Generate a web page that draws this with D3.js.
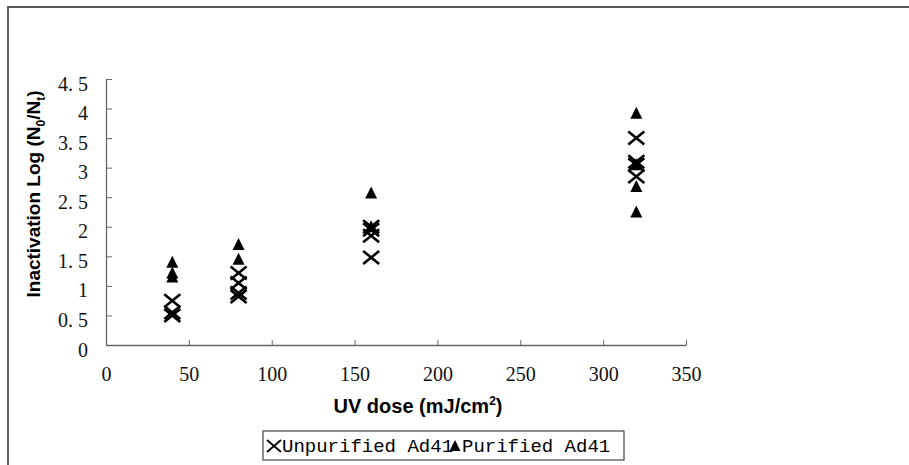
<!DOCTYPE html>
<html>
<head>
<meta charset="utf-8">
<script src="https://cdn.jsdelivr.net/npm/d3@7"></script>
<style>
  body { margin: 0; background: #fff; }
</style>
</head>
<body>
<div id="chart"></div>
<script>
const width = 909;
const height = 465;
const margin = { top: 79, right: 223, bottom: 120, left: 106 };

// UV dose levels and inactivation values
const unpurifiedDose = [40, 40, 40, 80, 80, 80, 80, 160, 160, 160, 160, 320, 320, 320, 320];
const unpurifiedLog = [0.75, 0.55, 0.5, 1.22, 1.05, 0.88, 0.82, 2.0, 1.95, 1.85, 1.48, 3.5, 3.1, 3.05, 2.85];
const purifiedDose = [40, 40, 40, 80, 80, 160, 160, 320, 320, 320, 320];
const purifiedLog = [1.4, 1.22, 1.15, 1.7, 1.45, 2.57, 2.0, 3.92, 3.05, 2.68, 2.25];

const xTicks = [0, 50, 100, 150, 200, 250, 300, 350];
const yTicks = [0, 0.5, 1, 1.5, 2, 2.5, 3, 3.5, 4, 4.5];

const unpurified = unpurifiedDose.map((d, i) => ({ dose: d, log: unpurifiedLog[i] }));
const purified = purifiedDose.map((d, i) => ({ dose: d, log: purifiedLog[i] }));

const svg = d3.select("#chart")
  .append("svg")
  .attr("width", width)
  .attr("height", height);

// outer frame (top and left edges)
svg.append("path")
  .attr("d", `M8,${height} V7 H${width}`)
  .attr("fill", "none")
  .attr("stroke", "#555")
  .attr("stroke-width", 1.8);

const x = d3.scaleLinear()
  .domain([0, 350])
  .range([margin.left, width - margin.right]);

const y = d3.scaleLinear()
  .domain([0, 4.5])
  .range([height - margin.bottom, margin.top]);

// X axis
const xAxis = svg.append("g")
  .attr("transform", `translate(0, ${height - margin.bottom})`)
  .call(d3.axisBottom(x).tickValues(xTicks).tickSize(-5).tickSizeOuter(0).tickPadding(22).tickFormat(d3.format("d")));

// Y axis
const yAxis = svg.append("g")
  .attr("transform", `translate(${margin.left},0)`)
  .call(d3.axisLeft(y).tickValues(yTicks).tickSize(-6).tickSizeOuter(0).tickPadding(18)
    .tickFormat(d => d === Math.floor(d) ? d : d.toFixed(1).replace(".", ". ")));

svg.selectAll(".domain").attr("stroke", "#666").attr("stroke-width", 1.3);
svg.selectAll(".tick line").attr("stroke", "#666");
svg.selectAll(".tick text")
  .attr("font-family", "Liberation Serif, serif")
  .attr("font-size", 20)
  .attr("fill", "#111");
yAxis.selectAll(".tick text").attr("dy", "0.55em");

// X axis label
const xLabel = svg.append("text")
  .attr("x", 418)
  .attr("y", 413)
  .attr("text-anchor", "middle")
  .attr("font-family", "Liberation Sans, Arial, sans-serif")
  .attr("font-weight", "bold")
  .attr("font-size", 20)
  .text("UV dose (mJ/cm");
xLabel.append("tspan").attr("dy", -8).attr("font-size", 12).text("2");
xLabel.append("tspan").attr("dy", 8).text(")");

// Y axis label
const yLabel = svg.append("text")
  .attr("transform", "rotate(-90)")
  .attr("x", -194)
  .attr("y", 40)
  .attr("text-anchor", "middle")
  .attr("font-family", "Liberation Sans, Arial, sans-serif")
  .attr("font-weight", "bold")
  .attr("font-size", 19)
  .text("Inactivation Log (N");
yLabel.append("tspan").attr("dy", 5).attr("font-size", 12).text("0");
yLabel.append("tspan").attr("dy", -5).text("/N");
yLabel.append("tspan").attr("dy", 5).attr("font-size", 12).text("t");
yLabel.append("tspan").attr("dy", -5).text(")");

const cross = "M-8,-6.5L8,6.5M-8,6.5L8,-6.5";
const tri = "M0,-6.5L6,5.5L-6,5.5Z";

// Unpurified: crosses
svg.selectAll(".cross")
  .data(unpurified)
  .enter()
  .append("path")
  .attr("class", "cross")
  .attr("transform", d => `translate(${x(d.dose)},${y(d.log)})`)
  .attr("d", cross)
  .attr("stroke", "#000")
  .attr("stroke-width", 2.6)
  .attr("fill", "none");

// Purified: triangles
svg.selectAll(".tri")
  .data(purified)
  .enter()
  .append("path")
  .attr("class", "tri")
  .attr("transform", d => `translate(${x(d.dose)},${y(d.log)})`)
  .attr("d", tri)
  .attr("fill", "#000");

// Legend
const legend = svg.append("g").attr("transform", "translate(263,431)");
legend.append("rect")
  .attr("width", 361)
  .attr("height", 29)
  .attr("fill", "#fff")
  .attr("stroke", "#444")
  .attr("stroke-width", 1.2);
legend.append("path")
  .attr("transform", "translate(11,15)")
  .attr("d", "M-7,-6L7,6M-7,6L7,-6")
  .attr("stroke", "#000")
  .attr("stroke-width", 1.8);
legend.append("text")
  .attr("x", 19).attr("y", 21)
  .attr("font-family", "Liberation Mono, monospace")
  .attr("font-size", 19)
  .text("Unpurified Ad41");
legend.append("path")
  .attr("transform", "translate(192,15)")
  .attr("d", "M0,-6L5.5,5L-5.5,5Z")
  .attr("fill", "#000");
legend.append("text")
  .attr("x", 199).attr("y", 21)
  .attr("font-family", "Liberation Mono, monospace")
  .attr("font-size", 19)
  .text("Purified Ad41");
</script>
</body>
</html>
